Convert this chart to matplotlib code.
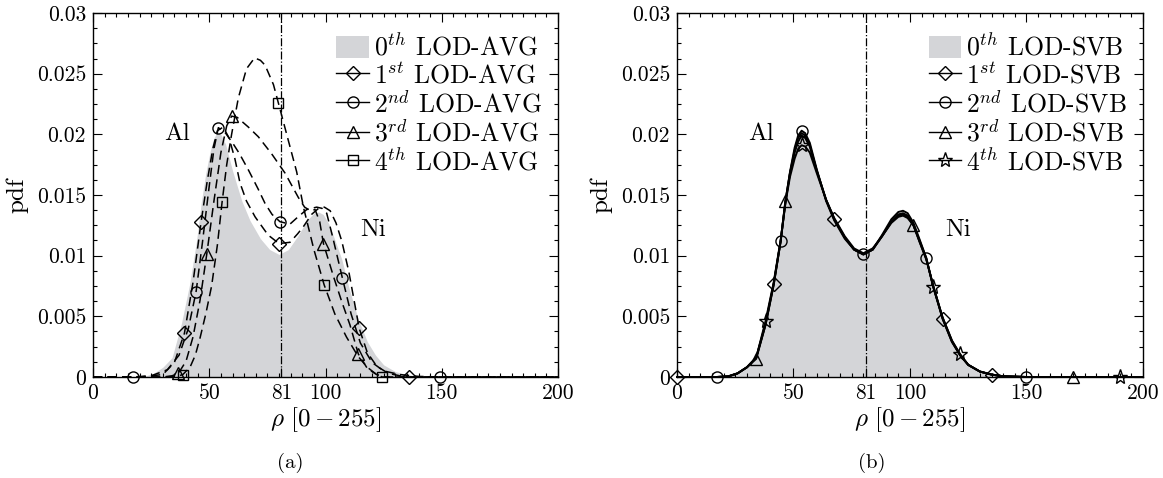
import numpy as np
import matplotlib
matplotlib.use('Agg')
import matplotlib.pyplot as plt
from matplotlib.ticker import MultipleLocator

plt.rcParams['font.family'] = 'serif'
plt.rcParams['font.serif'] = ['cmr10']
plt.rcParams['mathtext.fontset'] = 'cm'
plt.rcParams['axes.formatter.use_mathtext'] = True
plt.rcParams['axes.unicode_minus'] = False

# 0th level: original intensity histogram (shared by both panels)
x_hist = [0, 10, 17, 22, 26, 30, 34, 38, 41.5, 44.5, 46.5, 48.5, 50.5, 52, 53.5, 55, 57, 60,
          64, 67.5, 72, 76, 80, 84, 88, 92, 95, 97, 99, 101.5, 104, 107, 110, 114, 118,
          121.5, 125, 130, 135, 140, 150, 160, 170, 180, 190, 200]
pdf_hist = [0, 0, 0, 0.00005, 0.0003, 0.0008, 0.0016, 0.0044, 0.0076, 0.0112, 0.0143, 0.0168,
            0.0187, 0.0197, 0.0202, 0.0200, 0.0192, 0.0170, 0.0145, 0.0129, 0.0114, 0.0105,
            0.0101, 0.0105, 0.0116, 0.0129, 0.0135, 0.0136, 0.0134, 0.0126, 0.0113, 0.0097,
            0.0074, 0.0048, 0.0029, 0.0018, 0.0010, 0.00045, 0.0002, 0.00006, 0, 0, 0, 0, 0, 0]

# LOD-AVG levels 1..4
avg1_x = [0, 20, 30, 35, 39.3, 43, 46.5, 49, 51.5, 53.5, 56, 58.5, 61, 63.2, 66, 69.7, 75.3, 80,
          84.7, 88, 90.5, 94, 97, 99.5, 102, 104.5, 107, 110, 114.5, 118, 122, 127, 132, 135.9,
          150, 200]
avg1_y = [0, 0, 0.0002, 0.0012, 0.0036, 0.0078, 0.0128, 0.0160, 0.0188, 0.0203, 0.0206, 0.0197,
          0.0180, 0.0160, 0.0145, 0.0132, 0.0117, 0.0110, 0.0111, 0.0118, 0.0124, 0.0134, 0.0139,
          0.0140, 0.0137, 0.0127, 0.0112, 0.0087, 0.0040, 0.0020, 0.0009, 0.0003, 0.0001, 0, 0, 0]
avg1_marks = [39.3, 46.5, 80, 114.5, 135.9]

avg2_x = [0, 17, 25, 32, 37, 41, 44.3, 47, 49.5, 52, 53.9, 57, 60, 63, 67, 71, 74, 77, 80.4,
          84.7, 87.6, 91.9, 96.2, 98.5, 100.5, 103, 107.2, 111, 115, 120, 125, 132, 140, 149.2, 200]
avg2_y = [0, 0, 0.0001, 0.0006, 0.0018, 0.0040, 0.0070, 0.0110, 0.0150, 0.0188, 0.02055, 0.0201,
          0.0193, 0.0184, 0.0170, 0.0155, 0.0143, 0.0134, 0.0128, 0.0126, 0.0131, 0.0138, 0.0140,
          0.0139, 0.0135, 0.0116, 0.0082, 0.0052, 0.0028, 0.0012, 0.0005, 0.0002, 0.00005, 0, 0]
avg2_marks = [17, 44.3, 53.9, 80.4, 107.2, 149.2]

avg3_x = [0, 30, 34, 36.7, 40, 43, 46, 48.9, 52, 55, 57.5, 59.6, 62, 66.8, 71.1, 76.8, 82.6,
          88.3, 91, 93.5, 95.5, 97.5, 99.1, 103.4, 107, 110.5, 114.1, 118, 122, 126, 200]
avg3_y = [0, 0, 0.0001, 0.0003, 0.0013, 0.0033, 0.0063, 0.0101, 0.0145, 0.0185, 0.0207, 0.0215,
          0.0214, 0.0206, 0.0198, 0.0184, 0.0168, 0.0148, 0.0140, 0.0137, 0.0138, 0.0128, 0.0110,
          0.0083, 0.0062, 0.0043, 0.0019, 0.0007, 0.0002, 0, 0]
avg3_marks = [36.7, 48.9, 59.6, 99.1, 114.1]

avg4_x = [0, 30, 36, 38.6, 41.7, 44, 46, 48.5, 51, 53.5, 55.5, 57.5, 59.6, 62.5, 66, 69.5, 72,
          74, 77.6, 79.7, 83.3, 87.6, 90.5, 95, 99.4, 104, 109, 114, 118, 122, 124.4, 200]
avg4_y = [0, 0, 0.00005, 0.0002, 0.0008, 0.0018, 0.0032, 0.0052, 0.0075, 0.0109, 0.0144, 0.0175,
          0.0200, 0.0230, 0.0254, 0.0263, 0.0261, 0.0257, 0.0241, 0.0226, 0.0200, 0.0169, 0.0140,
          0.0105, 0.0076, 0.0052, 0.0033, 0.0017, 0.0008, 0.0002, 0, 0]
avg4_marks = [38.6, 55.5, 79.7, 99.4, 124.4]

# LOD-SVB levels 1..4 (same grid as the histogram)
svb1_y = [0, 0, 0, 0.00005, 0.0003, 0.0008, 0.0016, 0.0044, 0.0077, 0.0112, 0.0143, 0.0168,
          0.0187, 0.0197, 0.0201, 0.0199, 0.0191, 0.0170, 0.0146, 0.0130, 0.0115, 0.0105,
          0.0101, 0.0105, 0.0116, 0.0128, 0.0134, 0.0135, 0.0133, 0.0125, 0.0112, 0.0097,
          0.0075, 0.0048, 0.0029, 0.0018, 0.0010, 0.00045, 0.0002, 0.00006, 0, 0, 0, 0, 0, 0]
svb2_y = [0, 0, 0, 0.00005, 0.0003, 0.0008, 0.0016, 0.0043, 0.0076, 0.0112, 0.0144, 0.0169,
          0.0189, 0.0199, 0.0203, 0.0201, 0.0193, 0.0171, 0.0145, 0.0129, 0.0114, 0.0105,
          0.0101, 0.0105, 0.0117, 0.0130, 0.0136, 0.0137, 0.0135, 0.0127, 0.0114, 0.0098,
          0.0074, 0.0048, 0.0029, 0.0018, 0.0010, 0.00045, 0.0002, 0.00006, 0, 0, 0, 0, 0, 0]
svb3_y = [0, 0, 0, 0.00005, 0.0003, 0.0008, 0.0015, 0.0043, 0.0076, 0.0112, 0.0145, 0.0168,
          0.0185, 0.0194, 0.0199, 0.0197, 0.0190, 0.0170, 0.0146, 0.0130, 0.0115, 0.0105,
          0.0101, 0.0105, 0.0116, 0.0128, 0.0133, 0.0134, 0.0132, 0.0125, 0.0112, 0.0097,
          0.0075, 0.0049, 0.0030, 0.0018, 0.0010, 0.00045, 0.0002, 0.00006, 0, 0, 0, 0, 0, 0]
svb4_y = [0, 0, 0, 0.00005, 0.0003, 0.0008, 0.0016, 0.0046, 0.0078, 0.0113, 0.0143, 0.0165,
          0.0180, 0.0188, 0.0191, 0.0190, 0.0185, 0.0168, 0.0146, 0.0131, 0.0116, 0.0106,
          0.0102, 0.0106, 0.0116, 0.0127, 0.0132, 0.0133, 0.0131, 0.0125, 0.0113, 0.0098,
          0.0074, 0.0049, 0.0030, 0.0019, 0.0010, 0.00045, 0.0002, 0.00006, 0, 0, 0, 0, 0, 0]
svb1_marks = [0, 41.5, 67.5, 114, 135]
svb2_marks = [17, 44.5, 53.5, 80, 107, 150]
svb3_marks = [34, 46.5, 101.5, 170]
svb4_marks = [38, 53.5, 110, 121.5, 190]

level_names = [r'$0^{th}$', r'$1^{st}$', r'$2^{nd}$', r'$3^{rd}$', r'$4^{th}$']
x_ticks = [0, 50, 81, 100, 150, 200]
y_ticks = [0, 0.005, 0.01, 0.015, 0.02, 0.025, 0.03]
y_tick_labels = ['0', '0.005', '0.01', '0.015', '0.02', '0.025', '0.03']

fig = plt.figure(figsize=(11.63, 4.78), dpi=100)
ax_a = fig.add_axes([0.0800, 0.2113, 0.3998, 0.7615])
ax_b = fig.add_axes([0.5821, 0.2113, 0.4007, 0.7615])

gray = '#d4d5d8'


def style_axes(ax):
    ax.set_xlim(0, 200)
    ax.set_ylim(0, 0.03)
    ax.set_xticks(x_ticks)
    ax.set_xticklabels([str(t) for t in x_ticks])
    ax.set_yticks(y_ticks)
    ax.set_yticklabels(y_tick_labels)
    ax.xaxis.set_minor_locator(MultipleLocator(5))
    ax.yaxis.set_minor_locator(MultipleLocator(0.00125))
    ax.tick_params(which='both', direction='in', top=True, right=True, labelsize=15.5,
                   width=0.8)
    ax.tick_params(which='major', length=6.5, pad=5)
    ax.tick_params(which='minor', length=3.2)
    for s in ax.spines.values():
        s.set_linewidth(1.0)
        s.set_zorder(6)
    ax.set_xlabel(r'$\rho\ [0-255]$', fontsize=18, labelpad=1)
    ax.set_ylabel('pdf', fontsize=18, labelpad=6)
    ax.axvline(81, color='black', lw=0.9, ls='-.', zorder=3)
    ax.text(36, 0.0200, 'Al', fontsize=18, ha='center', va='center')
    ax.text(120.5, 0.0121, 'Ni', fontsize=18, ha='center', va='center')


def add_legend(ax):
    leg = ax.legend(loc='upper right', bbox_to_anchor=(0.998, 0.985), frameon=False,
                    fontsize=18.5, handlelength=1.25, handleheight=0.95, handletextpad=0.2,
                    labelspacing=0.06, borderaxespad=0.2, numpoints=1)
    # short legend samples read better as solid strokes
    for ln in leg.get_lines():
        ln.set_linestyle('-')
        ln.set_linewidth(1.0)
    return leg


# (a) LOD-AVG
ax_a.fill_between(x_hist, pdf_hist, color=gray, lw=0, label=level_names[0] + ' LOD-AVG',
                  zorder=1)
avg_sets = [(avg1_x, avg1_y, avg1_marks), (avg2_x, avg2_y, avg2_marks),
            (avg3_x, avg3_y, avg3_marks), (avg4_x, avg4_y, avg4_marks)]
avg_markers = ['D', 'o', '^', 's']
avg_sizes = [7.5, 8, 8.5, 7.5]
for i, (xs, ys, mk) in enumerate(avg_sets):
    xs = np.array(xs)
    idx = list(np.flatnonzero(np.isin(xs, mk)))
    ax_a.plot(xs, ys, color='black', lw=1.1, dashes=(6, 3.5), marker=avg_markers[i],
              markersize=avg_sizes[i], mfc='none', mec='black', mew=1.0, markevery=idx,
              label=level_names[i + 1] + ' LOD-AVG', zorder=4, clip_on=False)
style_axes(ax_a)
add_legend(ax_a)

# (b) LOD-SVB
ax_b.fill_between(x_hist, pdf_hist, color=gray, lw=0, label=level_names[0] + ' LOD-SVB',
                  zorder=1)
svb_sets = [(svb1_y, svb1_marks), (svb2_y, svb2_marks), (svb3_y, svb3_marks),
            (svb4_y, svb4_marks)]
svb_markers = ['D', 'o', '^', '*']
svb_sizes = [7.5, 8, 8.5, 11]
xs = np.array(x_hist)
for i, (ys, mk) in enumerate(svb_sets):
    idx = list(np.flatnonzero(np.isin(xs, mk)))
    ax_b.plot(xs, ys, color='black', lw=1.4, ls='-', marker=svb_markers[i],
              markersize=svb_sizes[i], mfc='none', mec='black', mew=1.0, markevery=idx,
              label=level_names[i + 1] + ' LOD-SVB', zorder=4, clip_on=False)
style_axes(ax_b)
add_legend(ax_b)

fig.text(290 / 1163, 1 - 463 / 478, '(a)', fontsize=15, ha='center', va='center')
fig.text(872 / 1163, 1 - 463 / 478, '(b)', fontsize=15, ha='center', va='center')

fig.savefig('out.png', dpi=100)
